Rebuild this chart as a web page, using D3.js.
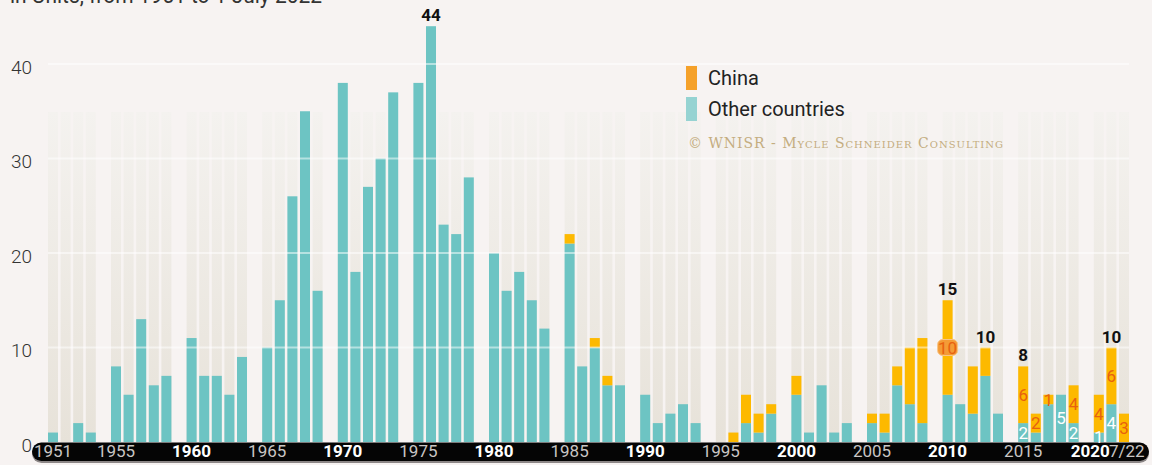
<!DOCTYPE html>
<html>
<head>
<meta charset="utf-8">
<script src="https://cdn.jsdelivr.net/npm/d3@7"></script>
<style>
    body { margin: 0; background: #f7f3f2; }
    #grafico-contenedor { width: 1152px; height: 465px; overflow: hidden; }
    text { font-family: Roboto, "Open Sans", sans-serif; }
</style>
</head>
<body>
<div id="grafico-contenedor"></div>
<script>
/**************************************************
 * Data - construction starts per year (units)
***************************************************/
const years = d3.range(1951, 2023);

const otherCountries = [
    1, 0, 2, 1, 8, 5, 13, 6, 7, 11,
    7, 7, 5, 9, 10, 15, 26, 35, 16, 38,
    18, 27, 30, 37, 38, 44, 23, 22, 28, 20,
    16, 18, 15, 12, 21, 8, 10, 6, 6, 5,
    2, 3, 4, 2, 0, 0, 2, 1, 3, 5,
    1, 6, 1, 2, 2, 1, 6, 4, 2, 5,
    4, 3, 7, 3, 2, 1, 4, 5, 2, 1,
    4, 0
];

const china = [
    0, 0, 0, 0, 0, 0, 0, 0, 0, 0,
    0, 0, 0, 0, 0, 0, 0, 0, 0, 0,
    0, 0, 0, 0, 0, 0, 0, 0, 0, 0,
    0, 0, 0, 0, 1, 0, 1, 1, 0, 0,
    0, 0, 0, 0, 0, 1, 3, 2, 1, 2,
    0, 0, 0, 0, 1, 2, 2, 6, 9, 10,
    0, 5, 3, 0, 6, 2, 1, 0, 4, 4,
    6, 3
];

// which values get a number written on the chart
const totalLabelYears = [1976, 2010, 2013, 2015, 2021];
const chinaLabelYears = [2010, 2015, 2016, 2017, 2019, 2020, 2021, 2022];
const otherLabelYears = [2015, 2018, 2019, 2020, 2021];
const highlightYear = 2010;

// x axis labels
const tickYears = [1951, 1955, 1960, 1965, 1970, 1975, 1980, 1985, 1990, 1995, 2000, 2005, 2010, 2015, 2020, 2022];
const tickLabels = ["1951", "1955", "1960", "1965", "1970", "1975", "1980", "1985", "1990", "1995", "2000", "2005", "2010", "2015", "2020", "7/22"];
const yTicks = [0, 10, 20, 30, 40];

const series = ["China", "Other countries"];

/**************************************************
 * Dimensions
***************************************************/
const width = 1152;
const height = 465;
const baseY = 442;
const unitPx = 9.45;
const colTop = 112;

const colorOther = "#6dc4c3";
const colorChina = "#fdb900";
const colorLabelChina = "#e8610f";

const dataset = years.map((y, i) => ({
    year: y,
    other: otherCountries[i],
    china: china[i],
    total: otherCountries[i] + china[i]
}));

// 5 years per block + one empty slot between blocks
const slotOf = (year) => Math.floor((year - 1950) / 5) * 6 + (year - 1950) % 5;

/**************************************************
 * Scales
***************************************************/
const nSlots = slotOf(2022) + 1;
const step = 12.6;
const xScale = d3.scaleBand()
    .domain(d3.range(nSlots))
    .range([35.4, 35.4 + step * (nSlots - 0.206)])
    .paddingInner(0.206)
    .paddingOuter(0);

const yScale = d3.scaleLinear()
    .domain([0, 44])
    .range([baseY, baseY - 44 * unitPx]);

const bw = xScale.bandwidth();

/**************************************************
 * SVG
***************************************************/
const svg = d3.select("#grafico-contenedor")
    .append("svg")
    .attr("width", width)
    .attr("height", height);

const defs = svg.append("defs");
const grad = defs.append("linearGradient")
    .attr("id", "colGrad")
    .attr("x1", 0).attr("y1", 0).attr("x2", 0).attr("y2", 1);
grad.append("stop").attr("offset", "0%").attr("stop-color", "#f4f2ef");
grad.append("stop").attr("offset", "100%").attr("stop-color", "#e7e2d9");

// subtitle, cut at the top of the picture
svg.append("text")
    .attr("x", 10)
    .attr("y", 3)
    .attr("textLength", 312)
    .attr("lengthAdjust", "spacingAndGlyphs")
    .style("font-size", "22px")
    .style("fill", "#333")
    .text("in Units, from 1951 to 1 July 2022");

/**************************************************
 * Background columns
***************************************************/
svg.append("g")
    .selectAll("rect")
    .data(dataset)
    .enter()
    .append("rect")
    .attr("x", d => xScale(slotOf(d.year)))
    .attr("y", colTop)
    .attr("width", bw)
    .attr("height", baseY - colTop)
    .attr("fill", "url(#colGrad)");

/**************************************************
 * Bars (stacked: other countries at the bottom, China on top)
***************************************************/
const bars = svg.append("g");

bars.selectAll(".other")
    .data(dataset.filter(d => d.other > 0))
    .enter()
    .append("rect")
    .attr("class", "other")
    .attr("x", d => xScale(slotOf(d.year)))
    .attr("y", d => yScale(d.other))
    .attr("width", bw)
    .attr("height", d => baseY - yScale(d.other))
    .attr("fill", colorOther);

bars.selectAll(".china")
    .data(dataset.filter(d => d.china > 0))
    .enter()
    .append("rect")
    .attr("class", "china")
    .attr("x", d => xScale(slotOf(d.year)))
    .attr("y", d => yScale(d.total))
    .attr("width", bw)
    .attr("height", d => yScale(d.other) - yScale(d.total))
    .attr("fill", colorChina);

/**************************************************
 * Grid lines (over the bars)
***************************************************/
svg.append("g")
    .selectAll("line")
    .data(yTicks.filter(t => t > 0))
    .enter()
    .append("line")
    .attr("x1", xScale(slotOf(1951)))
    .attr("x2", xScale(slotOf(2022)) + bw)
    .attr("y1", d => yScale(d))
    .attr("y2", d => yScale(d))
    .attr("stroke", "white")
    .attr("stroke-opacity", 0.5)
    .attr("stroke-width", 2);

/**************************************************
 * Y axis
***************************************************/
const yAxis = d3.axisLeft(yScale).tickValues(yTicks).tickSize(0).tickPadding(0);
const gy = svg.append("g")
    .attr("transform", "translate(32,0)")
    .call(yAxis);
gy.select(".domain").remove();
gy.selectAll("text")
    .attr("dy", "0.48em")
    .style("font-family", "Roboto, sans-serif")
    .style("font-size", "19px")
    .style("font-weight", 300)
    .style("fill", "#333");

/**************************************************
 * X axis - black rounded band
***************************************************/
svg.append("rect")
    .attr("x", 32).attr("y", 444)
    .attr("width", 1117).attr("height", 19)
    .attr("rx", 9.5)
    .attr("fill", "#8c8787");
svg.append("rect")
    .attr("x", 32).attr("y", 442.5)
    .attr("width", 1117).attr("height", 18.5)
    .attr("rx", 9.25)
    .attr("fill", "#050505");

const labelOf = {};
tickYears.forEach((y, i) => labelOf[slotOf(y)] = tickLabels[i]);

const xAxis = d3.axisBottom(xScale)
    .tickValues(tickYears.map(slotOf))
    .tickFormat(s => labelOf[s])
    .tickSize(0)
    .tickPadding(0);

const gx = svg.append("g")
    .attr("transform", `translate(0,${baseY})`)
    .call(xAxis);
gx.select(".domain").remove();

const lastSlot = slotOf(2022);
const prevSlot = slotOf(2020);
gx.selectAll("text")
    .attr("y", 15)
    .attr("dy", 0)
    // the last two labels are set end to end ("20207/22")
    .attr("text-anchor", s => (s === prevSlot ? "end" : s === lastSlot ? "start" : "middle"))
    .attr("dx", s => (s === prevSlot ? 11 : s === lastSlot ? -15 : 0))
    .style("font-family", "Roboto, sans-serif")
    .style("font-size", "17px")
    .style("font-weight", s => (labelOf[s] % 10 === 0 ? 700 : 400))
    .style("fill", s => (labelOf[s] % 10 === 0 ? "#fff" : "#c9c6c4"));

/**************************************************
 * Value labels
***************************************************/
const labels = svg.append("g")
    .style("font-family", "Roboto, sans-serif")
    .style("font-size", "17px")
    .attr("text-anchor", "middle");

const cx = d => xScale(slotOf(d.year)) + bw / 2;

// highlight box for one China value
const hl = dataset.find(d => d.year === highlightYear);
labels.append("rect")
    .attr("x", cx(hl) - 10)
    .attr("y", (yScale(hl.total) + yScale(hl.other)) / 2 - 8)
    .attr("width", 20)
    .attr("height", 16)
    .attr("rx", 5)
    .attr("fill", "#f49b36")
    .attr("stroke", "#f8c588");

labels.selectAll(".lblChina")
    .data(dataset.filter(d => chinaLabelYears.includes(d.year)))
    .enter()
    .append("text")
    .attr("class", "lblChina")
    .attr("x", cx)
    .attr("y", d => (yScale(d.total) + yScale(d.other)) / 2)
    .attr("dy", "0.36em")
    .style("fill", colorLabelChina)
    .text(d => d.china);

labels.selectAll(".lblOther")
    .data(dataset.filter(d => otherLabelYears.includes(d.year)))
    .enter()
    .append("text")
    .attr("class", "lblOther")
    .attr("x", cx)
    .attr("y", d => (yScale(d.other) + baseY) / 2)
    .attr("dy", "0.36em")
    .style("fill", "#fff")
    .text(d => d.other);

labels.selectAll(".lblTotal")
    .data(dataset.filter(d => totalLabelYears.includes(d.year)))
    .enter()
    .append("text")
    .attr("class", "lblTotal")
    .attr("x", cx)
    .attr("y", d => yScale(d.total) - 5)
    .style("font-weight", 700)
    .style("fill", "#111")
    .text(d => d.total);

/**************************************************
 * Legend
***************************************************/
const legendColors = ["#f5a12a", "#96d3d2"];
const legend = svg.append("g").attr("id", "legend");

legend.selectAll("rect")
    .data(series)
    .enter()
    .append("rect")
    .attr("x", 686)
    .attr("y", (d, i) => 66 + i * 31)
    .attr("width", 11)
    .attr("height", 24)
    .attr("fill", (d, i) => legendColors[i]);

legend.selectAll("text")
    .data(series)
    .enter()
    .append("text")
    .attr("x", 708)
    .attr("y", (d, i) => 78 + i * 31)
    .attr("dy", "0.36em")
    .style("font-size", "20px")
    .style("fill", "#222")
    .text(d => d);

svg.append("text")
    .attr("x", 688)
    .attr("y", 148)
    .attr("textLength", 315)
    .attr("lengthAdjust", "spacing")
    .style("font-family", "'DejaVu Serif', serif")
    .style("font-variant", "small-caps")
    .style("font-size", "14px")
    .style("fill", "#c4ad80")
    .text("© WNISR - Mycle Schneider Consulting");
</script>
</body>
</html>
